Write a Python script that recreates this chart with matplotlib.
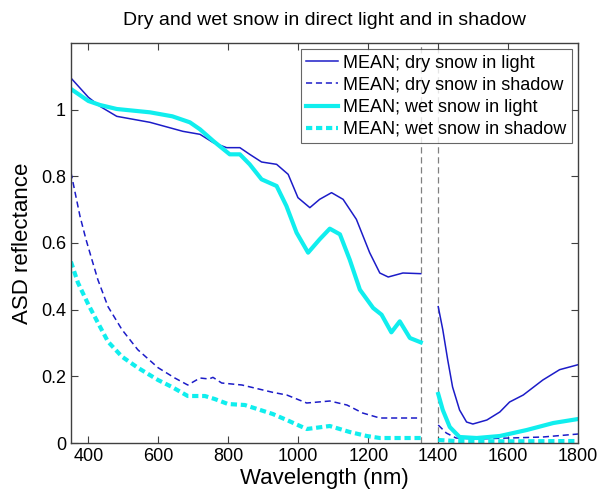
import numpy as np
import matplotlib
matplotlib.use("Agg")
import matplotlib.pyplot as plt

plt.rcParams['font.family'] = ['Liberation Sans', 'DejaVu Sans']

title = "Dry and wet snow in direct light and in shadow"
xlabel = "Wavelength (nm)"
ylabel = "ASD reflectance"
labels = ["MEAN; dry snow in light", "MEAN; dry snow in shadow",
          "MEAN; wet snow in light", "MEAN; wet snow in shadow"]
xticks = [400, 600, 800, 1000, 1200, 1400, 1600, 1800]
yticks = [0, 0.2, 0.4, 0.6, 0.8, 1.0]
yticklabels = ["0", "0.2", "0.4", "0.6", "0.8", "1"]
gap_lines = [1350, 1400]

# dry snow in light
dry_light_wl_a = [350, 400, 433, 481, 576, 670, 719, 757, 795, 833, 861, 895, 938, 971, 999,
                  1033, 1061, 1095, 1128, 1166, 1204, 1233, 1257, 1299, 1350]
dry_light_a = [1.095, 1.037, 1.010, 0.980, 0.962, 0.935, 0.926, 0.901, 0.886, 0.886, 0.866,
               0.843, 0.836, 0.806, 0.736, 0.706, 0.731, 0.751, 0.731, 0.671, 0.571, 0.510,
               0.498, 0.510, 0.508]
dry_light_wl_b = [1400, 1413, 1427, 1441, 1461, 1481, 1499, 1539, 1576, 1604, 1643, 1699, 1747, 1800]
dry_light_b = [0.409, 0.340, 0.250, 0.168, 0.099, 0.063, 0.057, 0.069, 0.093, 0.123, 0.144,
               0.189, 0.220, 0.235]

# dry snow in shadow
dry_shadow_wl_a = [350, 376, 393, 410, 427, 456, 496, 541, 599, 647, 684, 719, 745, 756, 781,
                   839, 927, 967, 1024, 1090, 1139, 1184, 1233, 1350]
dry_shadow_a = [0.812, 0.680, 0.611, 0.550, 0.490, 0.409, 0.340, 0.280, 0.226, 0.195, 0.174,
                0.195, 0.192, 0.197, 0.180, 0.174, 0.152, 0.144, 0.120, 0.126, 0.114, 0.090,
                0.075, 0.075]
dry_shadow_wl_b = [1400, 1423, 1451, 1510, 1604, 1699, 1800]
dry_shadow_b = [0.054, 0.030, 0.015, 0.012, 0.015, 0.018, 0.027]

# wet snow in light
wet_light_wl_a = [350, 400, 433, 481, 576, 640, 690, 719, 757, 804, 833, 861, 895, 938, 966,
                  995, 1028, 1061, 1090, 1119, 1147, 1176, 1214, 1238, 1266, 1290, 1319, 1350]
wet_light_a = [1.062, 1.026, 1.014, 1.002, 0.992, 0.980, 0.962, 0.941, 0.906, 0.866, 0.866,
               0.836, 0.791, 0.771, 0.711, 0.631, 0.571, 0.611, 0.643, 0.626, 0.550, 0.460,
               0.405, 0.385, 0.332, 0.365, 0.315, 0.302]
wet_light_wl_b = [1400, 1413, 1433, 1461, 1510, 1576, 1653, 1729, 1800]
wet_light_b = [0.147, 0.099, 0.048, 0.018, 0.015, 0.021, 0.039, 0.060, 0.072]

# wet snow in shadow
wet_shadow_wl_a = [350, 370, 400, 427, 456, 496, 541, 599, 639, 684, 733, 761, 799, 847, 927,
                   967, 1024, 1090, 1147, 1196, 1233, 1350]
wet_shadow_a = [0.544, 0.481, 0.415, 0.361, 0.304, 0.259, 0.226, 0.189, 0.168, 0.141, 0.141,
                0.132, 0.117, 0.114, 0.087, 0.069, 0.042, 0.051, 0.033, 0.021, 0.015, 0.015]
wet_shadow_wl_b = [1400, 1450, 1600, 1800]
wet_shadow_b = [0.009, 0.006, 0.005, 0.006]

blue = "#1c1cc8"
cyan = "#10eeee"

fig = plt.figure(figsize=(6.01, 4.93), dpi=100)
ax = fig.add_axes([0.118, 0.1014, 0.844, 0.8114])

def seg(wa, ya, wb, yb):
    return list(wa) + [np.nan] + list(wb), list(ya) + [np.nan] + list(yb)

x, y = seg(dry_light_wl_a, dry_light_a, dry_light_wl_b, dry_light_b)
ax.plot(x, y, color=blue, lw=1.1, label=labels[0])
x, y = seg(dry_shadow_wl_a, dry_shadow_a, dry_shadow_wl_b, dry_shadow_b)
ax.plot(x, y, color=blue, lw=1.1, ls=(0, (4, 2.5)), label=labels[1])
x, y = seg(wet_light_wl_a, wet_light_a, wet_light_wl_b, wet_light_b)
ax.plot(x, y, color=cyan, lw=3.0, label=labels[2])
x, y = seg(wet_shadow_wl_a, wet_shadow_a, wet_shadow_wl_b, wet_shadow_b)
ax.plot(x, y, color=cyan, lw=3.0, ls=(0, (1.5, 0.9)), label=labels[3])

for g in gap_lines:
    ax.axvline(g, color="#808080", lw=0.9, ls=(0, (5, 3)), zorder=0)

ax.set_xlim(350, 1800)
ax.set_ylim(0, 1.2)
ax.set_xticks(xticks)
ax.set_yticks(yticks)
ax.set_yticklabels(yticklabels)
ax.tick_params(direction='in', top=True, right=True, labelsize=13, length=5, width=0.8,
               color="#404040")
for s in ax.spines.values():
    s.set_color("#404040")
    s.set_linewidth(1.0)

ax.set_xlabel(xlabel, fontsize=16, labelpad=2)
ax.set_ylabel(ylabel, fontsize=16, labelpad=6)
ax.set_title(title, fontsize=14, pad=13)

leg = ax.legend(loc="upper right", fontsize=13, frameon=True, fancybox=False,
                edgecolor="#404040", handlelength=1.75, handletextpad=0.3,
                borderpad=0.3, labelspacing=0.28, borderaxespad=0.35)
leg.get_frame().set_linewidth(0.8)

fig.savefig("out.png", dpi=100)
